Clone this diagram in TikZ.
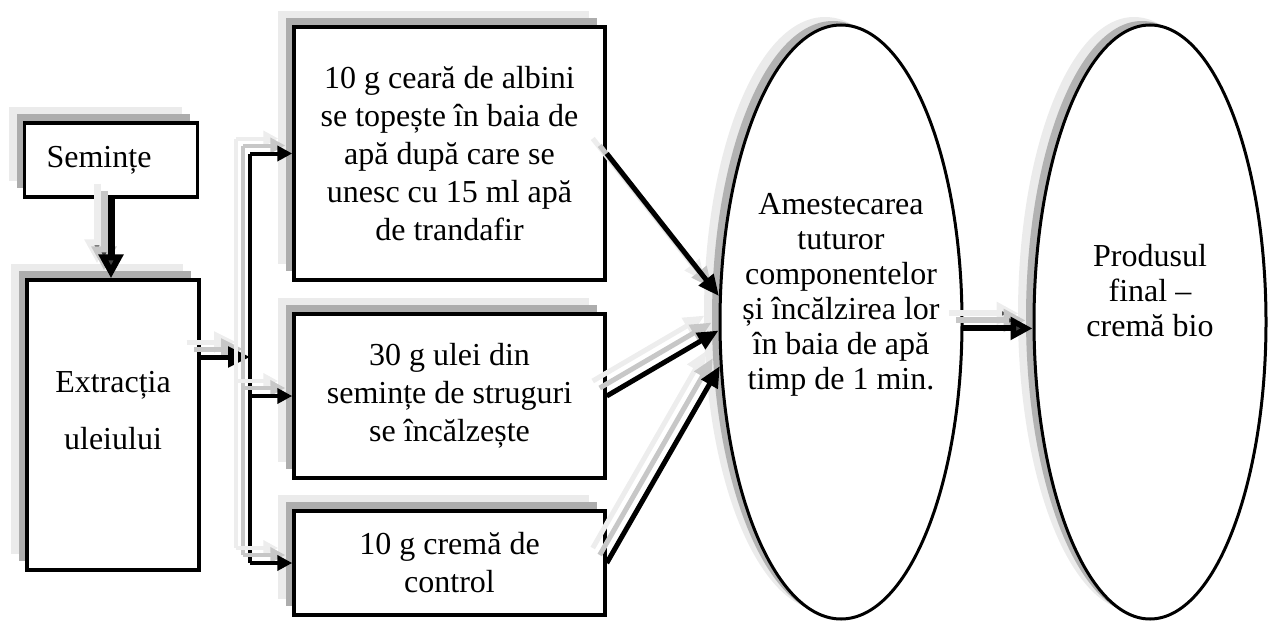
\documentclass[tikz,border=0pt]{standalone}
\usepackage{fontspec}
\setmainfont{Liberation Serif}
\usetikzlibrary{arrows.meta,shapes.geometric,shadows}
\begin{document}
\begin{tikzpicture}[x=1pt,y=-1pt,
  box/.style={draw, fill=white, line width=3.5pt, inner sep=0pt, align=center,
    font=\fontsize{32}{38}\selectfont,
    general shadow={fill=black!8, shadow xshift=-16pt, shadow yshift=16pt},
    general shadow={fill=black!32, shadow xshift=-8pt, shadow yshift=9pt}},
  oval/.style={ellipse, draw, fill=white, line width=3pt, inner sep=0pt,
    general shadow={fill=black!8, shadow xshift=-16pt, shadow yshift=8pt},
    general shadow={fill=black!30, shadow xshift=-8pt, shadow yshift=4pt}},
  txt/.style={align=center, inner sep=0pt, font=\fontsize{32}{35}\selectfont},
  sh/.style={preaction={draw=black!7, line width=#1, transform canvas={shift={(-14pt,15pt)}}},
             preaction={draw=black!22, line width=#1, transform canvas={shift={(-7pt,8pt)}}}},
  a1/.style={sh=7pt, line width=7pt, -{Triangle[length=24pt,width=24pt,fill=black!75]}},
  a2/.style={sh=5pt, line width=5pt, -{Triangle[length=22pt,width=20pt]}},
  a3/.style={sh=4pt, line width=4pt, -{Triangle[length=15pt,width=15pt]}},
  a4/.style={sh=5pt, line width=5pt, -{Triangle[length=21pt,width=18pt]}},
  a5/.style={sh=6pt, line width=6pt, -{Triangle[length=22pt,width=22pt,fill=black!75]}},
  busl/.style={sh=3.5pt, line width=3.5pt}
]
\useasboundingbox (0,0) rectangle (1268,623);

% boxes
\node[box, minimum width=173pt, minimum height=74pt] (sem) at (111,160) {Semințe\hspace*{24pt}};
\node[box, minimum width=172pt, minimum height=290pt] (ext) at (113,425) {};
\node[txt, font=\fontsize{32}{57}\selectfont] (extT) at (113,411) {Extracția\\uleiului};
\node[box, minimum width=311pt, minimum height=253pt] (b1) at (449.5,153.5)
  {10 g ceară de albini\\se topește în baia de\\apă după care se\\unesc cu 15 ml apă\\de trandafir};
\node[box, minimum width=311pt, minimum height=164pt] (b2) at (449.5,396)
  {30 g ulei din\\semințe de struguri\\se încălzește};
\node[box, minimum width=311pt, minimum height=104pt] (b3) at (449.5,563)
  {10 g cremă de\\control};

% ellipses
\node[oval, minimum width=242pt, minimum height=594pt] (e1) at (841,322) {};
\node[txt] (e1T) at (841,295) {Amestecarea\\tuturor\\componentelor\\și încălzirea lor\\în baia de apă\\timp de 1 min.};
\node[oval, minimum width=232pt, minimum height=594pt] (e2) at (1150,322) {};
\node[txt] (e2T) at (1150,291) {Produsul\\final –\\cremă bio};

% connectors
\coordinate (bus) at (250,0);
\coordinate (j) at (250,357);
\draw[a1] (sem.south) -- (sem.south |- ext.north);
\draw[a2] (ext.east |- j) -- (j);
\draw[busl] (b1.west -| bus) -- (b3.west -| bus);
\draw[a3] (b1.west -| bus) -- (b1.west);
\draw[a3] (b2.west -| bus) -- (b2.west);
\draw[a3] (b3.west -| bus) -- (b3.west);
\draw[a4] (b1.east) -- (e1.168);
\draw[a4] (b2.east) -- (e1.184);
\draw[a4] (b3.east) -- (e1.200);
\draw[a5] (e1.-3) -- (e1.-3 -| e2.west);
\end{tikzpicture}
\end{document}
